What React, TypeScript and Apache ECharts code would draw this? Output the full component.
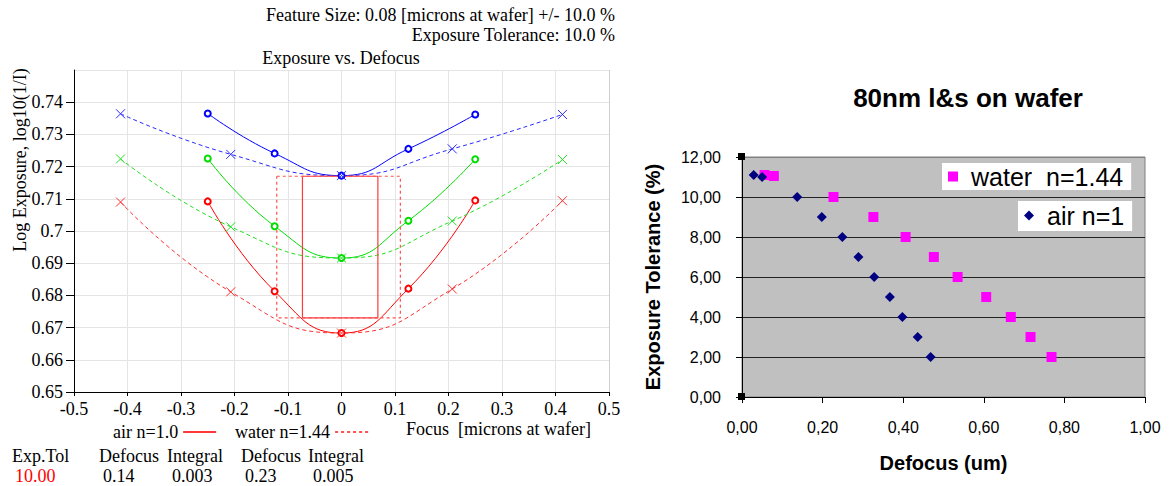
import React, { useEffect, useRef } from 'react';
import * as echarts from 'echarts';

// ---------- Left chart data (Exposure vs. Defocus) ----------
const focusAir = [-0.25, -0.125, 0, 0.125, 0.25];
const focusWater = [-0.413, -0.207, 0, 0.207, 0.413];
const blueAir = [0.7365, 0.7241, 0.7172, 0.7255, 0.7362];
const greenAir = [0.7225, 0.7015, 0.6916, 0.7032, 0.7223];
const redAir = [0.7092, 0.6813, 0.6683, 0.6821, 0.7095];
const blueWater = [0.7364, 0.7238, 0.7172, 0.7255, 0.7362];
const greenWater = [0.7224, 0.7013, 0.6916, 0.7031, 0.7222];
const redWater = [0.709, 0.6811, 0.6683, 0.682, 0.7094];
const windowAirX = [-0.073, 0.068];
const windowWaterX = [-0.121, 0.11];
const windowY = [0.673, 0.717];

const tableHeaders = ['Exp.Tol', 'Defocus', 'Integral', 'Defocus', 'Integral'];
const tableValues = ['10.00', '0.14', '0.003', '0.23', '0.005'];

// ---------- Right chart data (80nm l&s on wafer) ----------
const airDefocus = [0.029, 0.05, 0.137, 0.198, 0.249, 0.289, 0.328, 0.367, 0.398, 0.436, 0.468];
const airTol = [11.1, 11.0, 10, 9, 8, 7, 6, 5, 4, 3, 2];
const waterDefocus = [0.056, 0.079, 0.227, 0.326, 0.406, 0.476, 0.535, 0.606, 0.667, 0.716, 0.768];
const waterTol = [11.1, 11.05, 10, 9, 8, 7, 6, 5, 4, 3, 2];

// ---------- layout helpers (not data) ----------
const headerX = [12, 99, 167, 241, 308];
const valueX = [15, 103, 172, 245, 313];
const SERIF = 'Liberation Serif';
const SANS = 'Liberation Sans';
const X_SYMBOL = 'path://M0,0L10,10M10,0L0,10';

const zip = (xs: number[], ys: number[]) => xs.map((x, i) => [x, ys[i]]);
const rect = (xr: number[], yr: number[]) => [
  [xr[0], yr[1]],
  [xr[1], yr[1]],
  [xr[1], yr[0]],
  [xr[0], yr[0]],
  [xr[0], yr[1]],
];

function airSeries(name: string, ys: number[], color: string) {
  return {
    type: 'line',
    name,
    xAxisIndex: 0,
    yAxisIndex: 0,
    data: zip(focusAir, ys),
    smooth: true,
    symbol: 'emptyCircle',
    symbolSize: 6,
    lineStyle: { color, width: 1 },
    itemStyle: { color, borderColor: color, borderWidth: 1 },
  };
}
function waterSeries(name: string, ys: number[], color: string) {
  return {
    type: 'line',
    name,
    xAxisIndex: 0,
    yAxisIndex: 0,
    data: zip(focusWater, ys),
    smooth: true,
    symbol: X_SYMBOL,
    symbolSize: 9,
    lineStyle: { color, width: 1, type: [4, 3] },
    itemStyle: { color, borderColor: color, borderWidth: 1 },
  };
}

function serifText(x: number, y: number, text: string, align = 'left', fill = '#000') {
  return {
    type: 'text',
    x,
    y,
    silent: true,
    style: { text, align, verticalAlign: 'middle', fontFamily: SERIF, fontSize: 18, fill },
  };
}

export default function App() {
  const ref = useRef<HTMLDivElement>(null);
  useEffect(() => {
    if (!ref.current) return;
    const chart = echarts.init(ref.current, undefined, { renderer: 'svg' });
    const leftGridColors = Array.from({ length: 11 }, (_, i) => (i === 10 ? '#cfcfcf' : '#e4e4e4'));
    const rightGridColors = ['#000', '#222', '#222', '#222', '#222', '#222', '#808080'];

    const graphic: any[] = [
      serifText(615, 15, 'Feature Size: 0.08 [microns at wafer] +/- 10.0 %', 'right'),
      serifText(615, 35, 'Exposure Tolerance: 10.0 %', 'right'),
      serifText(341, 58, 'Exposure vs. Defocus', 'center'),
      {
        type: 'text',
        x: 20,
        y: 160,
        rotation: Math.PI / 2,
        silent: true,
        style: {
          text: 'Log Exposure, log10(1/I)',
          align: 'center',
          verticalAlign: 'middle',
          fontFamily: SERIF,
          fontSize: 18,
          fill: '#000',
        },
      },
      serifText(406, 429, 'Focus  [microns at wafer]'),
      ...tableHeaders.map((t, i) => serifText(headerX[i], 456, t)),
      ...tableValues.map((t, i) => serifText(valueX[i], 476, t, 'left', i === 0 ? '#ff0000' : '#000')),
      {
        type: 'text',
        x: 968,
        y: 98,
        silent: true,
        style: {
          text: '80nm l&s on wafer',
          align: 'center',
          verticalAlign: 'middle',
          fontFamily: SANS,
          fontWeight: 'bold',
          fontSize: 26,
          fill: '#000',
        },
      },
      { type: 'rect', shape: { x: 738, y: 153, width: 7, height: 7 }, style: { fill: '#000' }, z: 100 },
      { type: 'rect', shape: { x: 738, y: 393, width: 7, height: 7 }, style: { fill: '#000' }, z: 100 },
    ];

    const leftLegendBase = {
      top: 423,
      align: 'right',
      selectedMode: false,
      padding: 0,
      itemWidth: 33,
      itemHeight: 12,
      itemStyle: { opacity: 0 },
      textStyle: { fontFamily: SERIF, fontSize: 18, color: '#000' },
    };

    const option: any = {
      animation: false,
      backgroundColor: '#fff',
      grid: [
        { left: 74, top: 70, width: 535, height: 322 },
        {
          left: 742,
          top: 157,
          width: 403,
          height: 240,
          show: true,
          backgroundColor: '#c0c0c0',
          borderColor: '#808080',
          borderWidth: 1,
        },
      ],
      xAxis: [
        {
          gridIndex: 0,
          type: 'value',
          min: -0.5,
          max: 0.5,
          interval: 0.1,
          axisLine: { show: true, onZero: false, lineStyle: { color: '#000', width: 1 } },
          axisTick: { show: true, length: 4, lineStyle: { color: '#000' } },
          axisLabel: {
            margin: 8,
            fontFamily: SERIF,
            fontSize: 18,
            color: '#000',
            formatter: (v: number) => String(+v.toFixed(1)),
          },
          splitLine: { show: true, lineStyle: { color: leftGridColors, width: 1 } },
        },
        {
          gridIndex: 1,
          type: 'value',
          min: 0,
          max: 1,
          interval: 0.2,
          name: 'Defocus (um)',
          nameLocation: 'middle',
          nameGap: 56,
          nameTextStyle: { fontFamily: SANS, fontWeight: 'bold', fontSize: 20, color: '#000' },
          axisLine: { show: true, onZero: false, lineStyle: { color: '#000', width: 1 } },
          axisTick: { show: true, length: 6, lineStyle: { color: '#000' } },
          axisLabel: {
            margin: 22,
            fontFamily: SANS,
            fontSize: 16,
            color: '#000',
            formatter: (v: number) => v.toFixed(2).replace('.', ','),
          },
          splitLine: { show: false },
        },
      ],
      yAxis: [
        {
          gridIndex: 0,
          type: 'value',
          min: 0.65,
          max: 0.75,
          interval: 0.01,
          axisLine: { show: true, onZero: false, lineStyle: { color: '#000', width: 1 } },
          axisTick: { show: true, length: 8, lineStyle: { color: '#000' } },
          axisLabel: {
            margin: 11,
            showMaxLabel: false,
            fontFamily: SERIF,
            fontSize: 18,
            color: '#000',
            formatter: (v: number) => String(+v.toFixed(2)),
          },
          splitLine: { show: true, lineStyle: { color: '#e4e4e4', width: 1 } },
        },
        {
          gridIndex: 1,
          type: 'value',
          min: 0,
          max: 12,
          interval: 2,
          name: 'Exposure Tolerance (%)',
          nameLocation: 'middle',
          nameGap: 79,
          nameTextStyle: { fontFamily: SANS, fontWeight: 'bold', fontSize: 20, color: '#000' },
          axisLine: { show: true, onZero: false, lineStyle: { color: '#000', width: 1 } },
          axisTick: { show: true, length: 6, lineStyle: { color: '#000' } },
          axisLabel: {
            margin: 21,
            fontFamily: SANS,
            fontSize: 16,
            color: '#000',
            formatter: (v: number) => v.toFixed(2).replace('.', ','),
          },
          splitLine: { show: true, lineStyle: { color: rightGridColors, width: 1 } },
        },
      ],
      legend: [
        { ...leftLegendBase, left: 113, data: ['air n=1.0'] },
        { ...leftLegendBase, left: 235, data: ['water n=1.44'] },
        {
          left: 942,
          top: 163,
          data: ['water  n=1.44'],
          selectedMode: false,
          backgroundColor: '#fff',
          padding: [1, 8, 1, 6],
          itemWidth: 10,
          itemHeight: 10,
          textStyle: { fontFamily: SANS, fontSize: 25, color: '#000', padding: [0, 0, 0, 8] },
        },
        {
          left: 1018,
          top: 201,
          data: ['air n=1'],
          selectedMode: false,
          backgroundColor: '#fff',
          padding: [2, 8, 3, 6],
          itemWidth: 10,
          itemHeight: 10,
          textStyle: { fontFamily: SANS, fontSize: 25, color: '#000', padding: [0, 0, 0, 8] },
        },
      ],
      series: [
        airSeries('air blue', blueAir, '#0000ff'),
        airSeries('air green', greenAir, '#00dd00'),
        airSeries('air red', redAir, '#ff0000'),
        waterSeries('water blue', blueWater, '#2a2aff'),
        waterSeries('water green', greenWater, '#22e022'),
        waterSeries('water red', redWater, '#ff3030'),
        {
          type: 'line',
          name: 'air n=1.0',
          xAxisIndex: 0,
          yAxisIndex: 0,
          data: rect(windowAirX, windowY),
          symbol: 'none',
          lineStyle: { color: '#ff3a3a', width: 1.2 },
          itemStyle: { color: '#ff0000' },
        },
        {
          type: 'line',
          name: 'water n=1.44',
          xAxisIndex: 0,
          yAxisIndex: 0,
          data: rect(windowWaterX, windowY),
          symbol: 'none',
          lineStyle: { color: '#ff5050', width: 1.2, type: [3, 3] },
          itemStyle: { color: '#ff0000' },
        },
        {
          type: 'scatter',
          name: 'water  n=1.44',
          xAxisIndex: 1,
          yAxisIndex: 1,
          data: zip(waterDefocus, waterTol),
          symbol: 'rect',
          symbolSize: 10,
          itemStyle: { color: '#ff00ff', opacity: 1 },
        },
        {
          type: 'scatter',
          name: 'air n=1',
          xAxisIndex: 1,
          yAxisIndex: 1,
          data: zip(airDefocus, airTol),
          symbol: 'diamond',
          symbolSize: 10,
          itemStyle: { color: '#000080', opacity: 1 },
        },
      ],
      graphic,
    };
    chart.setOption(option);
    return () => chart.dispose();
  }, []);
  return (
    <div
      ref={ref}
      style={{ position: 'fixed', left: 0, top: 0, width: 1169, height: 486, background: '#fff' }}
    />
  );
}
